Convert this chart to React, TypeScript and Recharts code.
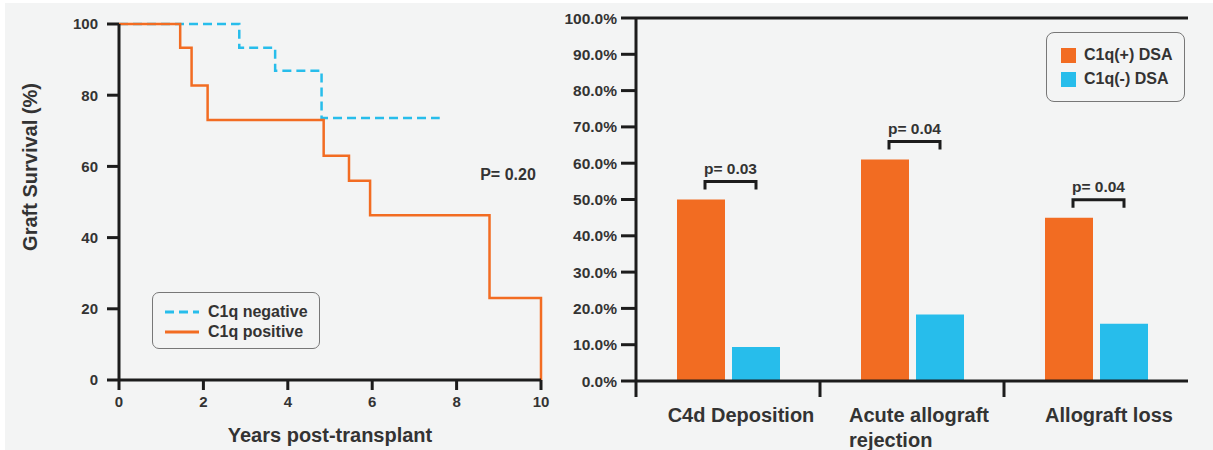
import React from 'react';
import { LineChart, Line, BarChart, Bar, XAxis, YAxis, Legend, ReferenceLine, LabelList } from 'recharts';

// Kaplan-Meier steps (years, % surviving)
const negTimes = [0, 2.85, 3.7, 4.8, 7.6];
const negSurvival = [100, 93.3, 86.9, 73.6, 73.6];
const posTimes = [0, 1.45, 1.72, 2.1, 4.85, 5.45, 5.95, 8.78, 10];
const posSurvival = [100, 93.3, 82.7, 73, 63, 56, 46.3, 23, 0];
const yearTicks = [0, 2, 4, 6, 8, 10];
const survivalTicks = [0, 20, 40, 60, 80, 100];

// outcome bars (%)
const outcomes = ['C4d Deposition', 'Acute allograft rejection', 'Allograft loss'];
const c1qPositive = [50, 61, 45];
const c1qNegative = [9.4, 18.3, 15.8];
const pValues = ['p= 0.03', 'p= 0.04', 'p= 0.04'];
const percentTicks = [0, 10, 20, 30, 40, 50, 60, 70, 80, 90, 100];

const ORANGE = '#f26c22';
const BLUE = '#27bdeb';
const INK = '#1c1c1c';
const TEXT = '#333';
const FONT = '"Liberation Sans", Arial, sans-serif';

const negData = negTimes.map((t, i) => ({ t, s: negSurvival[i] }));
const posData = posTimes.map((t, i) => ({ t, s: posSurvival[i] }));
const barData = outcomes.map((name, i) => ({ name, pos: c1qPositive[i], neg: c1qNegative[i] }));

const BAR_W = 48;
const BAR_GAP = 7;
const RIGHT_W = 656;
const RIGHT_MARGIN = { top: 18, right: 25, left: 7, bottom: 9 };
const RIGHT_YAXIS_W = 72;
const band = (RIGHT_W - RIGHT_MARGIN.left - RIGHT_MARGIN.right - RIGHT_YAXIS_W) / outcomes.length;

const tickStyle = { fill: TEXT, fontSize: 15, fontWeight: 700, fontFamily: FONT };

const KMLegend = ({ payload }: any) => (
  <div style={{ border: '1.5px solid #777', borderRadius: 7, width: 168, height: 57, boxSizing: 'border-box', padding: '9px 0 0 12px' }}>
    {(payload || []).map((p: any) => (
      <div key={p.value} style={{ display: 'flex', alignItems: 'center', height: 20 }}>
        <svg width={34} height={4}>
          <line x1={0} y1={2} x2={34} y2={2} stroke={p.color} strokeWidth={3}
            strokeDasharray={p.payload && p.payload.strokeDasharray} />
        </svg>
        <span style={{ marginLeft: 9, fontSize: 16, fontWeight: 700, color: TEXT, fontFamily: FONT }}>{p.value}</span>
      </div>
    ))}
  </div>
);

const BarLegend = ({ payload }: any) => (
  <div style={{ border: '1.5px solid #777', borderRadius: 8, width: 139, height: 70, boxSizing: 'border-box', padding: '10px 0 0 14px' }}>
    {(payload || []).map((p: any) => (
      <div key={p.value} style={{ display: 'flex', alignItems: 'center', height: 24 }}>
        <div style={{ width: 15, height: 15, background: p.color }} />
        <span style={{ marginLeft: 8, fontSize: 16, fontWeight: 700, color: TEXT, fontFamily: FONT }}>{p.value}</span>
      </div>
    ))}
  </div>
);

const OutcomeTick = (props: any) => {
  const { x, y, payload } = props;
  const words = String(payload.value);
  const twoLines = words === 'Acute allograft rejection';
  return (
    <g>
      <line x1={x - band / 2} y1={y} x2={x - band / 2} y2={y + 16} stroke={INK} strokeWidth={3} />
      {twoLines ? (
        <text x={x - 63} y={y + 41} textAnchor="start" fill={TEXT} fontSize={20} fontWeight={700} fontFamily={FONT}>
          <tspan x={x - 63}>Acute allograft</tspan>
          <tspan x={x - 63} dy={25}>rejection</tspan>
        </text>
      ) : (
        <text x={x + 13} y={y + 41} textAnchor="middle" fill={TEXT} fontSize={20} fontWeight={700} fontFamily={FONT}>
          {words}
        </text>
      )}
    </g>
  );
};

const Bracket = (props: any) => {
  const { x, y, width, index } = props;
  const left = Number(x) + Number(width) / 2 + 4;
  const right = Number(x) + Number(width) + BAR_GAP + Number(width) / 2;
  const top = Number(y) - 18;
  return (
    <g>
      <path d={`M${left},${top + 8}V${top}H${right}V${top + 8}`} stroke={INK} strokeWidth={3} fill="none" />
      <text x={(left + right) / 2} y={top - 8} textAnchor="middle" fill={TEXT} fontSize={15.5} fontWeight={700} fontFamily={FONT}>
        {pValues[index]}
      </text>
    </g>
  );
};

export default function App() {
  return (
    <div style={{ position: 'absolute', left: 0, top: 0, width: 1213, height: 450, background: '#fff', overflow: 'hidden', fontFamily: FONT }}>
      <div style={{ position: 'absolute', left: 5, top: 3, width: 1208, height: 447, background: '#f3f4f4' }} />

      <div style={{ position: 'absolute', left: 0, top: 0 }}>
        <LineChart width={557} height={450} margin={{ top: 24, right: 16, left: 59, bottom: 25 }}>
          <XAxis dataKey="t" type="number" domain={[0, 10]} ticks={yearTicks} allowDuplicatedCategory={false}
            axisLine={{ stroke: INK, strokeWidth: 3 }} tickLine={{ stroke: INK, strokeWidth: 3 }}
            tickSize={10} tickMargin={6} height={45} tick={tickStyle} />
          <YAxis type="number" domain={[0, 100]} ticks={survivalTicks} width={60}
            axisLine={{ stroke: INK, strokeWidth: 3 }} tickLine={{ stroke: INK, strokeWidth: 3 }}
            tickSize={12} tickMargin={9} tick={tickStyle} />
          <Legend layout="vertical" align="center" verticalAlign="middle" content={<KMLegend />}
            wrapperStyle={{ left: 152, top: 292, width: 168, height: 57 }} />
          <Line data={negData} dataKey="s" name="C1q negative" type="stepAfter" stroke={BLUE} strokeWidth={2.5}
            strokeDasharray="9 5" dot={false} isAnimationActive={false} />
          <Line data={posData} dataKey="s" name="C1q positive" type="stepAfter" stroke={ORANGE} strokeWidth={2.5}
            dot={false} isAnimationActive={false} />
        </LineChart>
      </div>

      <div style={{ position: 'absolute', left: 30, top: 167, transform: 'translate(-50%, -50%) rotate(-90deg)', whiteSpace: 'nowrap', fontSize: 20, fontWeight: 700, color: TEXT }}>
        Graft Survival (%)
      </div>
      <div style={{ position: 'absolute', left: 330, top: 435, transform: 'translate(-50%, -50%)', whiteSpace: 'nowrap', fontSize: 20, fontWeight: 700, color: TEXT }}>
        Years post-transplant
      </div>
      <div style={{ position: 'absolute', left: 508, top: 175, transform: 'translate(-50%, -50%)', whiteSpace: 'nowrap', fontSize: 16, fontWeight: 700, color: TEXT }}>
        P= 0.20
      </div>

      <div style={{ position: 'absolute', left: 557, top: 0 }}>
        <BarChart width={RIGHT_W} height={450} data={barData} margin={RIGHT_MARGIN} barGap={BAR_GAP} barSize={BAR_W}>
          <XAxis dataKey="name" type="category" axisLine={{ stroke: INK, strokeWidth: 3 }} tickLine={false}
            tickSize={0} tickMargin={0} height={60} tick={<OutcomeTick />} interval={0} />
          <YAxis type="number" domain={[0, 100]} ticks={percentTicks} width={RIGHT_YAXIS_W}
            tickFormatter={(v: number) => `${v.toFixed(1)}%`}
            axisLine={{ stroke: INK, strokeWidth: 3 }} tickLine={{ stroke: INK, strokeWidth: 3 }}
            tickSize={15} tickMargin={4} tick={{ ...tickStyle, fontSize: 15.5 }} />
          <ReferenceLine y={100} stroke={INK} strokeWidth={3} />
          <Legend layout="vertical" align="center" verticalAlign="middle" content={<BarLegend />}
            wrapperStyle={{ left: 489, top: 32, width: 139, height: 70 }} />
          <Bar dataKey="pos" name="C1q(+) DSA" fill={ORANGE} isAnimationActive={false}>
            <LabelList dataKey="pos" content={<Bracket />} />
          </Bar>
          <Bar dataKey="neg" name="C1q(-) DSA" fill={BLUE} isAnimationActive={false} />
        </BarChart>
      </div>
    </div>
  );
}
